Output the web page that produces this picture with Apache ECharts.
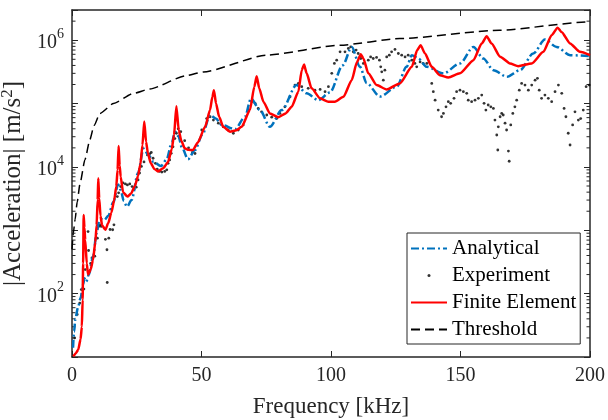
<!DOCTYPE html>
<html>
<head>
<meta charset="utf-8">
<title>Acceleration vs frequency</title>
<script src="https://cdn.jsdelivr.net/npm/echarts@6/dist/echarts.min.js"></script>
<style>
  html, body { margin: 0; padding: 0; background: #fff; }
  #chart { width: 608px; height: 420px; }
</style>
</head>
<body>
<div id="chart"></div>
<script>
// values: [frequency kHz, |acceleration| m/s^2]
const analytical = [
  [0.4, 14], [0.8, 25], [1.3, 40], [2.3, 60], [3.3, 85], [4.3, 140], [4.8, 175], [5.5, 155],
  [6.5, 200], [8.1, 380], [9.5, 900], [10.5, 1400], [11.5, 1500], [12.5, 1450], [14, 1700],
  [16, 2800], [17.8, 5300], [18.8, 4300], [20, 2900], [21.2, 2350], [23, 3000], [25.5, 8000],
  [27.6, 19500], [29.5, 15500], [31.5, 12000], [34.3, 10300], [36.5, 13000], [38.5, 24000],
  [39.8, 36000], [41, 31000], [42.5, 20000], [44.8, 13200], [47.5, 18500], [50.3, 32000],
  [53.3, 66000], [55.5, 58000], [57.8, 46000], [63, 39500], [66.8, 62000], [69.1, 120000],
  [72.6, 79000], [76.4, 43000], [81, 79000], [86.7, 196000], [90.6, 145000], [95.1, 113000],
  [99.6, 150000], [104.5, 400000], [108, 780000], [111.2, 380000], [113.8, 210000],
  [118.9, 129000], [125.4, 185000], [129.2, 380000], [131.2, 580000], [133.7, 515000],
  [137, 380000], [143.4, 300000], [149.8, 430000], [155, 785000], [158.8, 515000],
  [162.7, 337000], [167.9, 265000], [173, 337000], [178.1, 617000], [182.6, 1030000],
  [187.1, 785000], [192.3, 580000], [200, 560000]
];

const experiment = [
  [1.0, 20], [2.0, 47], [3.0, 71], [3.6, 116], [4.6, 118], [5.1, 240], [6.2, 955], [6.4, 480],
  [7.2, 300], [7.7, 365], [8.8, 390], [9.8, 750], [10.3, 1150], [10.8, 1220], [11.3, 1150],
  [12.9, 720], [13.5, 493], [13.6, 150], [14.2, 750], [14.7, 1030], [15.7, 1020], [16.2, 1220],
  [17.5, 3400], [18.0, 3900], [18.8, 4900], [19.7, 5600], [20.6, 5400], [21.4, 5200],
  [22.3, 5400], [23.2, 4900], [23.9, 4450], [24.8, 4800], [25.5, 6240], [26.1, 8000],
  [26.8, 10200], [27.8, 12000], [29.1, 15500], [30.0, 16100], [30.6, 16900], [31.3, 13700],
  [32.2, 11400], [32.9, 9200], [33.8, 8500], [34.7, 8300], [35.8, 8500], [36.6, 9000],
  [37.1, 11400], [37.7, 12900], [38.3, 16400], [39.0, 20800], [39.7, 28000], [40.3, 34000],
  [41.0, 40000], [42.0, 36000], [43.5, 26000], [45.0, 20000], [46.5, 17000], [47.5, 16300],
  [50.1, 38300], [52.0, 58000], [53.3, 62000], [54.6, 55000], [56.5, 49000], [58.4, 43000],
  [60.3, 38300], [62.3, 34000], [64.2, 38300], [66.1, 46000], [68.1, 79000], [69.4, 107000],
  [70.7, 101000], [71.9, 84000], [73.2, 74000], [75.2, 66000], [77.1, 61000], [79.0, 58000],
  [80.3, 70000], [82.2, 89000], [84.2, 128000], [86.1, 196000], [87.4, 208000], [88.7, 185000],
  [91.2, 174000], [93.8, 163000], [95.8, 167000], [97.7, 154000], [99.0, 185000],
  [100.3, 300000], [101.3, 430000], [102.2, 484000], [103.5, 655000], [105.4, 655000],
  [106.7, 740000], [107.6, 785000], [108.6, 655000], [109.7, 700000], [110.5, 617000],
  [111.5, 515000], [112.5, 430000], [114.4, 484000], [115.3, 546000], [116.3, 515000],
  [117.6, 535000], [118.7, 484000], [119.2, 380000], [119.6, 317000], [120.2, 234000],
  [120.8, 337000], [121.5, 546000], [122.5, 580000], [123.4, 655000], [124.7, 715000],
  [126.0, 617000], [127.3, 580000], [128.6, 546000], [129.8, 580000], [131.2, 484000],
  [132.4, 430000], [133.1, 380000], [134.4, 455000], [135.6, 430000], [137.0, 430000],
  [138.9, 208000], [139.5, 154000], [140.2, 113000], [141.4, 79000], [142.7, 62000],
  [143.4, 70000], [144.4, 89000], [145.3, 107000], [146.2, 101000], [147.5, 121000],
  [148.5, 154000], [149.8, 163000], [151.1, 154000], [152.4, 145000], [153.0, 113000],
  [154.3, 107000], [155.6, 113000], [156.9, 121000], [158.2, 136000], [159.1, 101000],
  [159.8, 79000], [160.7, 95000], [161.7, 89000], [162.7, 84000], [163.3, 55000],
  [164.0, 31900], [164.6, 43000], [164.4, 18500], [165.3, 62000], [165.9, 70000],
  [166.5, 66000], [167.2, 49000], [167.8, 38300], [168.5, 17800], [168.8, 12300],
  [169.4, 46000], [170.2, 70000], [171.0, 89000], [171.7, 113000], [172.7, 163000],
  [173.6, 208000], [174.9, 196000], [176.2, 163000], [177.5, 196000], [178.8, 234000],
  [179.7, 250000], [180.4, 163000], [181.3, 121000], [182.6, 136000], [183.9, 121000],
  [185.2, 107000], [186.5, 154000], [187.8, 196000], [189.1, 145000], [190.0, 84000],
  [190.7, 62000], [191.6, 34000], [192.3, 22200], [193.3, 46000], [194.2, 74000],
  [195.5, 55000], [196.4, 58000], [197.4, 79000], [198.5, 185000], [199.7, 196000]
];

const finiteElement = [
  [0.5, 10.2], [1.5, 11.5], [2.4, 13], [3.3, 19], [3.8, 30], [4.1, 80], [4.3, 300], [4.5, 1750],
  [4.8, 1100], [5.1, 700], [5.7, 300], [6.2, 200], [7.2, 240], [8.1, 340], [9.0, 650],
  [9.5, 1200], [9.9, 3000], [10.15, 6600], [10.5, 3200], [11.0, 1700], [11.6, 1200],
  [12.9, 1020], [14.0, 1300], [15.2, 1900], [16.3, 3000], [17.1, 4900], [17.6, 9000],
  [18.0, 21500], [18.4, 10500], [18.8, 7000], [19.7, 4000], [21.4, 3400], [22.8, 3800],
  [24.2, 4900], [25.5, 7200], [26.4, 11000], [27.2, 22000], [27.9, 52000], [28.6, 25000],
  [29.3, 16500], [30.4, 11500], [31.8, 9300], [33.2, 8500], [35.2, 9500], [37.1, 12000],
  [38.5, 19000], [39.4, 32000], [40.3, 91000], [41.2, 38000], [42.2, 26000], [43.5, 19700],
  [45.0, 18600], [46.7, 18500], [48.5, 24000], [51.4, 43000], [53.3, 79000], [54.2, 128000],
  [54.8, 163000], [55.6, 101000], [56.8, 62000], [58.4, 43000], [61.0, 36000], [63.5, 38000],
  [65.5, 43000], [68.7, 79000], [70.4, 185000], [71.3, 270000], [72.3, 174000],
  [73.9, 107000], [76.4, 70000], [79.7, 61000], [82.5, 70000], [84.8, 89000], [87.4, 154000],
  [88.7, 337000], [89.6, 414000], [90.6, 300000], [92.5, 174000], [95.8, 121000],
  [99.0, 107000], [101.5, 107000], [104.8, 128000], [108.0, 234000], [110.0, 450000],
  [111.5, 600000], [112.5, 515000], [114.4, 300000], [117.6, 196000], [121.5, 167000],
  [126.6, 208000], [131.2, 380000], [133.3, 700000], [134.6, 834000], [136.3, 617000],
  [138.9, 380000], [142.0, 281000], [145.3, 258000], [149.8, 300000], [155.0, 484000],
  [158.2, 890000], [160.1, 1160000], [162.0, 890000], [165.3, 550000], [169.1, 430000],
  [172.3, 390000], [177.5, 430000], [182.0, 655000], [185.2, 1200000], [187.5, 1580000],
  [189.0, 1350000], [192.3, 890000], [196.1, 655000], [200, 580000]
];

const threshold = [
  [0, 500], [0.5, 900], [1.2, 1480], [2, 2800], [3.1, 5500], [5, 13000], [6.9, 27000],
  [8.5, 45000], [10.8, 70000], [16, 100000], [23.7, 145000], [30, 170000], [44, 275000],
  [50.7, 316000], [75, 580000], [103.5, 835000], [126.6, 1060000], [165, 1440000],
  [199, 1940000], [200, 1950000]
];

// axes
const xTicks = [0, 50, 100, 150, 200];
const yLabelExponents = [2, 4, 6];
const minorMultipliers = [2, 3, 4, 5, 6, 7, 8, 9];
const minorDecades = [10, 100, 1000, 10000, 100000, 1000000];

const AXIS = '#262626';
const FONT = 'Liberation Serif';
const Y_MIN = 10, Y_MAX = 3e6;

const minorTickData = [];
minorDecades.forEach(d => minorMultipliers.forEach(m => {
  const v = m * d;
  if (v < Y_MAX) minorTickData.push([xTicks[0], v]);
}));

const chart = echarts.init(document.getElementById('chart'), null, { renderer: 'canvas' });

const frameLine = { show: true, onZero: false, lineStyle: { color: AXIS, width: 1.5 } };
const majorTick = { show: true, inside: true, length: 6, lineStyle: { color: AXIS, width: 1 } };
const noMarker = { opacity: 0 };

chart.setOption({
  animation: false,
  backgroundColor: '#fff',
  grid: { left: 72, right: 18, top: 10, bottom: 63, outerBoundsMode: 'none', containLabel: false },
  xAxis: [{
    type: 'value', min: xTicks[0], max: xTicks[xTicks.length - 1], interval: 50,
    axisLine: frameLine, axisTick: majorTick, splitLine: { show: false },
    axisLabel: { color: AXIS, fontFamily: FONT, fontSize: 20, margin: 9 },
    name: 'Frequency [kHz]', nameLocation: 'middle', nameGap: 38,
    nameTextStyle: { color: AXIS, fontFamily: FONT, fontSize: 23 }
  }, {
    type: 'value', position: 'top', min: xTicks[0], max: xTicks[xTicks.length - 1], interval: 50,
    axisLine: frameLine, axisTick: majorTick, splitLine: { show: false },
    axisLabel: { show: false }
  }],
  yAxis: [{
    type: 'log', logBase: 10, min: Y_MIN, max: Y_MAX,
    axisLine: frameLine, axisTick: majorTick, splitLine: { show: false },
    axisLabel: {
      margin: 8,
      formatter: function (v) {
        const e = Math.round(Math.log10(v));
        if (Math.abs(Math.log10(v) - e) > 1e-6 || yLabelExponents.indexOf(e) < 0) return '';
        return '{b|10}{s|' + e + '}';
      },
      rich: {
        b: { fontSize: 20, fontFamily: FONT, color: AXIS, verticalAlign: 'bottom', lineHeight: 26 },
        s: { fontSize: 14, fontFamily: FONT, color: AXIS, verticalAlign: 'top', lineHeight: 26 }
      }
    },
    name: '|Acceleration| [m/s{s|2}]', nameLocation: 'middle', nameGap: 34,
    nameTextStyle: {
      color: AXIS, fontFamily: FONT, fontSize: 25,
      rich: {
        s: { fontSize: 17, fontFamily: FONT, color: AXIS, verticalAlign: 'top', lineHeight: 30 }
      }
    }
  }, {
    type: 'log', logBase: 10, min: Y_MIN, max: Y_MAX, position: 'right',
    axisLine: frameLine, axisTick: majorTick, splitLine: { show: false },
    axisLabel: { show: false }
  }],
  legend: {
    data: [
      { name: 'Analytical', itemStyle: noMarker },
      { name: 'Experiment' },
      { name: 'Finite Element', itemStyle: noMarker },
      { name: 'Threshold', itemStyle: noMarker }
    ],
    orient: 'vertical', left: 407, top: 233,
    itemWidth: 36, itemHeight: 3, itemGap: 6,
    padding: [5, 4, 4, 3],
    backgroundColor: '#fff', borderColor: AXIS, borderWidth: 1, borderRadius: 0,
    selectedMode: false,
    textStyle: { fontFamily: FONT, fontSize: 21, color: '#000', lineHeight: 21 }
  },
  series: [{
    name: 'minor ticks', type: 'custom', silent: true, data: minorTickData,
    renderItem: function (params, api) {
      const v = api.value(1);
      const l = api.coord([xTicks[0], v]);
      const r = api.coord([xTicks[xTicks.length - 1], v]);
      const st = { stroke: AXIS, lineWidth: 1 };
      return { type: 'group', children: [
        { type: 'line', shape: { x1: l[0], y1: l[1], x2: l[0] + 3.5, y2: l[1] }, style: st },
        { type: 'line', shape: { x1: r[0] - 3.5, y1: r[1], x2: r[0], y2: r[1] }, style: st }
      ] };
    }
  }, {
    name: 'Analytical', type: 'line', data: analytical, showSymbol: false, symbol: 'none',
    smooth: 0.3, smoothMonotone: 'x',
    lineStyle: { color: '#0072BD', width: 2.5, type: [8, 3, 2, 3] },
    itemStyle: { color: '#0072BD' }
  }, {
    name: 'Experiment', type: 'scatter', data: experiment, symbol: 'circle', symbolSize: 2.8,
    itemStyle: { color: '#000' }
  }, {
    name: 'Finite Element', type: 'line', data: finiteElement, showSymbol: false, symbol: 'none',
    smooth: 0.2, smoothMonotone: 'x',
    lineStyle: { color: '#FF0000', width: 2.5 },
    itemStyle: { color: '#FF0000' }
  }, {
    name: 'Threshold', type: 'line', data: threshold, showSymbol: false, symbol: 'none',
    smooth: 0.2, smoothMonotone: 'x',
    lineStyle: { color: '#000', width: 1.5, type: [9, 5] },
    itemStyle: { color: '#000' }
  }]
});
</script>
</body>
</html>
